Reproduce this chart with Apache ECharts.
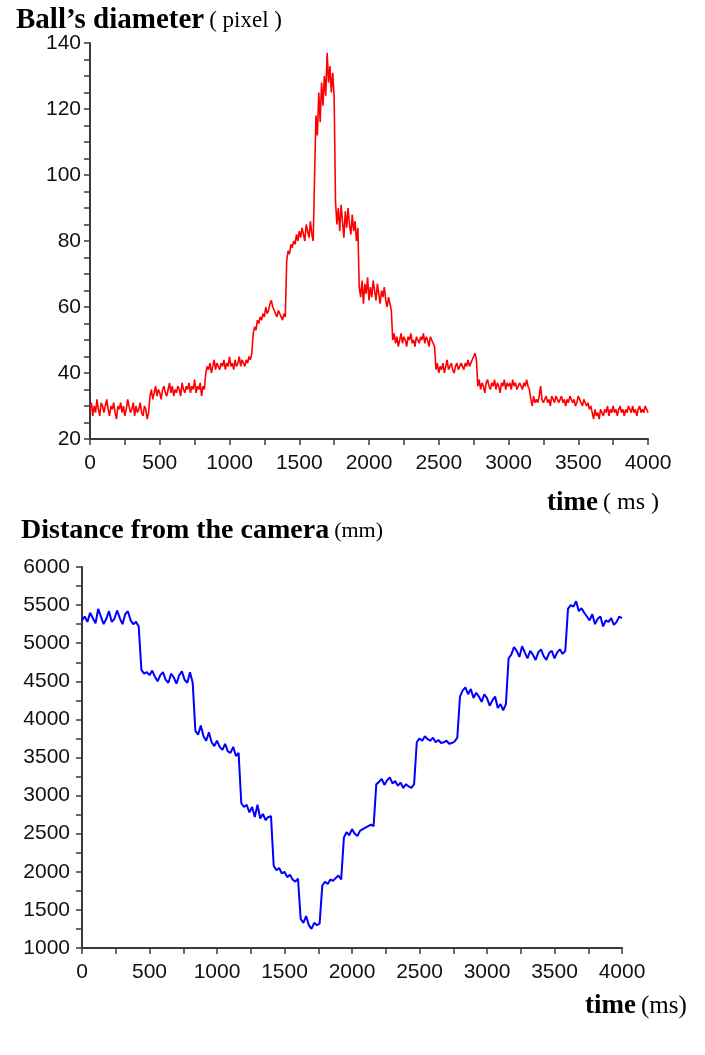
<!DOCTYPE html>
<html>
<head>
<meta charset="utf-8">
<script src="https://cdn.jsdelivr.net/npm/echarts@6/dist/echarts.min.js"></script>
<style>
  html, body { margin: 0; padding: 0; background: #ffffff; }
  #chart { width: 705px; height: 1055px; }
</style>
</head>
<body>
<div id="chart"></div>
<script>
// ---- data ----
const DIAMETER_STEP_MS = 10;  // diameter sampled every 10 ms, 0 .. 4000 ms
const DISTANCE_STEP_MS = 20;  // distance sampled every 20 ms, 0 .. 4000 ms

// Ball's diameter (pixel)
const diameterPx = [
  // 0 - 420 ms
  29,31,27,30,28,32,29,27,31,30, 28,30,32,29,27,30,29,31,28,26, 30,29,31,28,30,27,29,32,30,28, 29,31,27,30,28,29,31,28,27,30, 29,26,28,
  // 430 - 820 ms
  33,35,32,34,36,33,35,34,32,35, 36,34,33,35,37,34,36,33,35,34, 36,35,33,37,35,34,36,35,37,34, 36,35,38,34,36,35,37,33,36,35,
  // 830 - 1160 ms
  40,42,41,43,40,42,44,41,43,42, 41,43,42,44,41,43,42,45,42,43, 41,44,42,43,45,42,44,43,42,44, 43,45,44,46,
  // 1170 - 1400 ms
  52,54,53,56,55,57,56,58,57,60,58,59, 61,62,60,59,58,57,59,58,57,56,58,57,
  // 1410 - 1600 ms
  74,77,76,79,78,80,79,82,80,83, 81,84,82,80,85,83,81,86,82,80,
  // 1610 - 1750 ms
  100,118,112,125,116,128,121,130,124,137,128,133,125,131,124,
  // 1760 - 1920 ms
  92,85,90,83,91,86,81,89,84,90,85,82,88,83,86,80,84,
  // 1930 - 2160 ms
  66,63,68,61,67,64,69,62,66,63, 68,65,62,67,64,61,65,63,66,62, 60,63,61,59,
  // 2170 - 2470 ms
  50,52,49,51,48,50,52,49,51,50, 48,51,50,52,49,50,48,51,50,49, 51,50,52,49,51,50,48,51,50,49,48,
  // 2480 - 2770 ms
  41,43,40,42,41,43,40,42,44,41, 42,43,41,40,42,43,41,42,43,42, 41,43,42,44,42,43,44,45,46,44,
  // 2780 - 3150 ms
  36,38,35,37,36,34,37,38,36,35, 37,36,38,35,37,36,34,37,36,38, 35,37,36,37,35,38,36,37,35,36, 37,36,35,37,36,38,36,35,
  // 3160 - 3590 ms
  32,30,33,31,32,31,33,36,32,31, 32,33,31,32,30,33,32,31,33,32, 31,32,33,31,32,30,32,31,33,32, 31,32,30,31,33,32,31,30,32,31, 30,31,29,30,
  // 3600 - 4000 ms
  28,26,29,27,28,26,29,28,27,29, 28,30,27,29,28,30,28,29,27,29, 30,28,29,27,29,28,30,29,28,30, 28,29,27,29,30,28,29,28,30,29,28
];

// Distance from the camera (mm)
const distanceMm = [
  5300, 5350, 5280, 5400, 5330, 5260, 5450, 5350, 5250, 5320, 5420, 5280, 5320, 5430, 5330, 5250, 5380, 5420, 5300, 5250, 5280, 5220,
  4650, 4600, 4620, 4580, 4640, 4560, 4500, 4580, 4620, 4520, 4480, 4600, 4550, 4470, 4580, 4630, 4520, 4480, 4620, 4480,
  3850, 3800, 3920, 3780, 3720, 3830, 3700, 3650, 3720, 3640, 3600, 3680, 3580, 3560, 3640, 3520, 3560,
  2900, 2850, 2880, 2780, 2850, 2720, 2880, 2700, 2760, 2680, 2720, 2730,
  2080, 2020, 2050, 1980, 2000, 1930, 1960, 1900, 1870, 1910,
  1380, 1330, 1420, 1300, 1250, 1330, 1300, 1320,
  1820, 1870, 1840, 1900, 1880, 1920, 1950, 1900,
  2450, 2520, 2480, 2560, 2500, 2470, 2540, 2560, 2580, 2600, 2620, 2600,
  3150, 3180, 3220, 3140, 3200, 3240, 3160, 3190, 3130, 3170, 3100, 3150, 3120, 3100, 3150,
  3700, 3750, 3720, 3780, 3740, 3720, 3760, 3700, 3730, 3690, 3700, 3720, 3680, 3690, 3710, 3760,
  4300, 4380, 4420, 4330, 4400, 4280, 4350, 4300, 4230, 4330, 4280, 4180, 4250, 4300, 4150, 4200, 4120, 4200,
  4800, 4850, 4950, 4900, 4820, 4960, 4880, 4800, 4900, 4850, 4780, 4880, 4920, 4830, 4780, 4870, 4900, 4800, 4880, 4920, 4860, 4900,
  5450, 5500, 5480, 5550, 5420, 5460, 5400, 5350, 5300, 5380, 5250, 5320, 5350, 5220, 5300, 5280, 5330, 5240, 5280, 5350, 5330
];

// axis ranges / tick labels
const timeRange = [0, 4000];
const timeLabelStep = 500;
const diameterRange = [20, 140];
const diameterLabelStep = 20;
const distanceRange = [1000, 6000];
const distanceLabelStep = 500;

// ---- chart ----
const toPairs = (arr, step) => arr.map((v, i) => [i * step, v]);

const AXIS_COLOR = '#3a3a3a';
const LABEL_FONT = { color: '#111111', fontFamily: 'Liberation Sans, Arial, sans-serif', fontSize: 21 };

function xAxisDef(gridIndex, margin) {
  return {
    type: 'value', gridIndex,
    min: timeRange[0], max: timeRange[1], interval: 250,
    axisLine: { show: true, lineStyle: { color: AXIS_COLOR, width: 2 } },
    axisTick: { show: true, inside: false, length: 6, lineStyle: { color: AXIS_COLOR, width: 1.5 } },
    axisLabel: Object.assign({ margin, formatter: v => (v % timeLabelStep === 0 ? String(v) : '') }, LABEL_FONT),
    splitLine: { show: false }
  };
}
function yAxisDef(gridIndex, range, interval, labelStep, margin) {
  return {
    type: 'value', gridIndex,
    min: range[0], max: range[1], interval,
    axisLine: { show: true, lineStyle: { color: AXIS_COLOR, width: 2 } },
    axisTick: { show: true, inside: false, length: 6, lineStyle: { color: AXIS_COLOR, width: 1.5 } },
    axisLabel: Object.assign({ margin, formatter: v => (v % labelStep === 0 ? String(v) : '') }, LABEL_FONT),
    splitLine: { show: false }
  };
}

const serifBold = { fontFamily: 'Liberation Serif, Times New Roman, serif', fontWeight: 'bold', color: '#000' };
const serifNorm = { fontFamily: 'Liberation Serif, Times New Roman, serif', fontWeight: 'normal', color: '#000' };
const rich = (bSize, nSize) => ({
  b: Object.assign({ fontSize: bSize, lineHeight: 32 }, serifBold),
  n: Object.assign({ fontSize: nSize, lineHeight: 32 }, serifNorm)
});

const option = {
  backgroundColor: '#ffffff',
  animation: false,
  title: [
    { text: '{b|Ball’s diameter} {n|( pixel )}', left: 11, top: 0, textStyle: { rich: rich(29, 23) } },
    { text: '{b|time} {n|( ms )}', left: 542, top: 482, textStyle: { rich: rich(27, 24) } },
    { text: '{b|Distance from the camera} {n|(mm)}', left: 16, top: 510, textStyle: { rich: rich(28, 22) } },
    { text: '{b|time} {n|(ms)}', left: 580, top: 985, textStyle: { rich: rich(27, 25) } }
  ],
  grid: [
    { left: 90, top: 43, width: 558, height: 396, containLabel: false },
    { left: 82, top: 567, width: 540, height: 381, containLabel: false }
  ],
  xAxis: [ xAxisDef(0, 14), xAxisDef(1, 14) ],
  yAxis: [
    yAxisDef(0, diameterRange, 5, diameterLabelStep, 9),
    yAxisDef(1, distanceRange, 250, distanceLabelStep, 12)
  ],
  series: [
    { type: 'line', xAxisIndex: 0, yAxisIndex: 0, data: toPairs(diameterPx, DIAMETER_STEP_MS), showSymbol: false,
      lineStyle: { color: '#ff0000', width: 1.6 }, itemStyle: { color: '#ff0000' } },
    { type: 'line', xAxisIndex: 1, yAxisIndex: 1, data: toPairs(distanceMm, DISTANCE_STEP_MS), showSymbol: false,
      lineStyle: { color: '#0000ff', width: 2 }, itemStyle: { color: '#0000ff' } }
  ]
};

const chart = echarts.init(document.getElementById('chart'), null, { renderer: 'canvas' });
chart.setOption(option);
</script>
</body>
</html>
